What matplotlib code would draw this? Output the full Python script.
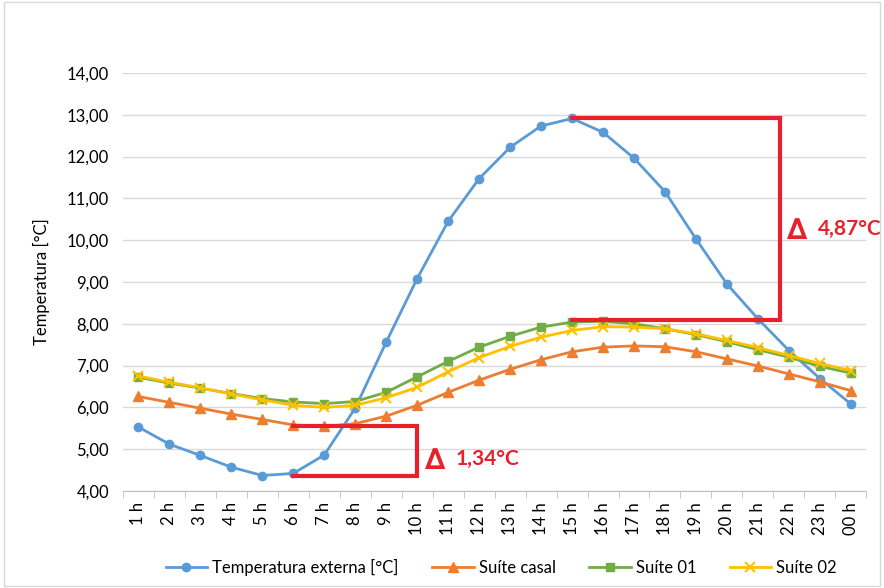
import matplotlib.pyplot as plt
import numpy as np

hours = ['1 h', '2 h', '3 h', '4 h', '5 h', '6 h', '7 h', '8 h', '9 h', '10 h', '11 h', '12 h',
         '13 h', '14 h', '15 h', '16 h', '17 h', '18 h', '19 h', '20 h', '21 h', '22 h', '23 h', '00 h']
externa = [5.53, 5.12, 4.85, 4.57, 4.37, 4.42, 4.86, 5.98, 7.56, 9.08, 10.45, 11.47,
           12.22, 12.73, 12.91, 12.58, 11.96, 11.16, 10.03, 8.95, 8.12, 7.36, 6.69, 6.08]
suite_casal = [6.26, 6.12, 5.98, 5.84, 5.71, 5.58, 5.55, 5.61, 5.79, 6.05, 6.36, 6.65,
               6.91, 7.14, 7.33, 7.44, 7.47, 7.45, 7.33, 7.16, 6.99, 6.80, 6.61, 6.40]
suite_01 = [6.72, 6.58, 6.46, 6.33, 6.21, 6.13, 6.09, 6.14, 6.36, 6.73, 7.10, 7.44,
            7.70, 7.92, 8.04, 8.06, 8.00, 7.88, 7.74, 7.57, 7.38, 7.20, 6.98, 6.82]
suite_02 = [6.75, 6.60, 6.47, 6.32, 6.18, 6.05, 6.00, 6.05, 6.23, 6.48, 6.85, 7.19,
            7.46, 7.68, 7.84, 7.93, 7.92, 7.88, 7.76, 7.60, 7.43, 7.24, 7.05, 6.88]
delta_max = '4,87°C'
delta_min = '1,34°C'

plt.rcParams['font.family'] = ['Lato', 'DejaVu Sans']

fig = plt.figure(figsize=(8.84, 5.88), dpi=100)
ax = fig.add_axes([0.139, 0.165, 0.841, 0.711])
x = np.arange(len(hours))

ax.plot(x, externa, color='#5B9BD5', lw=2, marker='o', ms=6, label='Temperatura externa [°C]', zorder=3)
ax.plot(x, suite_casal, color='#ED7D31', lw=2, marker='^', ms=7, label='Suíte casal', zorder=3)
ax.plot(x, suite_01, color='#70AD47', lw=2, marker='s', ms=6, label='Suíte 01', zorder=3)
ax.plot(x, suite_02, color='#FFC000', lw=2, marker='x', ms=7, mew=1.5, label='Suíte 02', zorder=3)

# red brackets marking the amplitude reduction
red = '#E8202A'
i_max = int(np.argmax(externa))
ax.plot([i_max, 20.7, 20.7, i_max], [externa[i_max], externa[i_max], 8.1, 8.1],
        color=red, lw=3, zorder=4, solid_joinstyle='miter')
ax.plot([5, 9, 9, 5], [min(suite_casal), min(suite_casal), min(externa), min(externa)],
        color=red, lw=3, zorder=4, solid_joinstyle='miter')
ax.text(20.95, 10.22, '∆', color=red, fontsize=21, fontweight='bold', va='center', family='DejaVu Sans')
ax.text(21.95, 10.26, delta_max, color=red, fontsize=15, fontweight='bold', va='center')
ax.text(9.25, 4.72, '∆', color=red, fontsize=21, fontweight='bold', va='center', family='DejaVu Sans')
ax.text(10.25, 4.76, delta_min, color=red, fontsize=15, fontweight='bold', va='center')

ax.set_xlim(-0.5, len(hours) - 0.5)
ax.set_ylim(4, 14)
ax.set_yticks(np.arange(4, 14.01, 1))
ax.set_yticklabels([f'{v:.2f}'.replace('.', ',') for v in np.arange(4, 14.01, 1)], fontsize=12)
ax.set_xticks(x)
ax.set_xticklabels(hours, rotation=90, fontsize=12)
ax.set_xticks(np.arange(-0.5, len(hours), 1), minor=True)
ax.tick_params(axis='x', which='major', length=0, pad=8)
ax.tick_params(axis='x', which='minor', length=5, color='#BFBFBF')
ax.tick_params(axis='y', length=0, pad=10)
ax.grid(axis='y', color='#D9D9D9', lw=1)
ax.set_axisbelow(True)
for s in ['top', 'right', 'left']:
    ax.spines[s].set_visible(False)
ax.spines['bottom'].set_color('#BFBFBF')
ax.set_ylabel('Temperatura [°C]', fontsize=12, labelpad=12)

fig.legend(loc='center', bbox_to_anchor=(0.567, 0.035), ncol=4, frameon=False, fontsize=12,
           handlelength=2.5, columnspacing=2.0, handletextpad=0.3)

fig.patches.append(plt.Rectangle((0.004, 0.004), 0.992, 0.992, transform=fig.transFigure,
                                 fill=False, edgecolor='#D9D9D9', lw=1))

fig.savefig('out.png', dpi=100)
